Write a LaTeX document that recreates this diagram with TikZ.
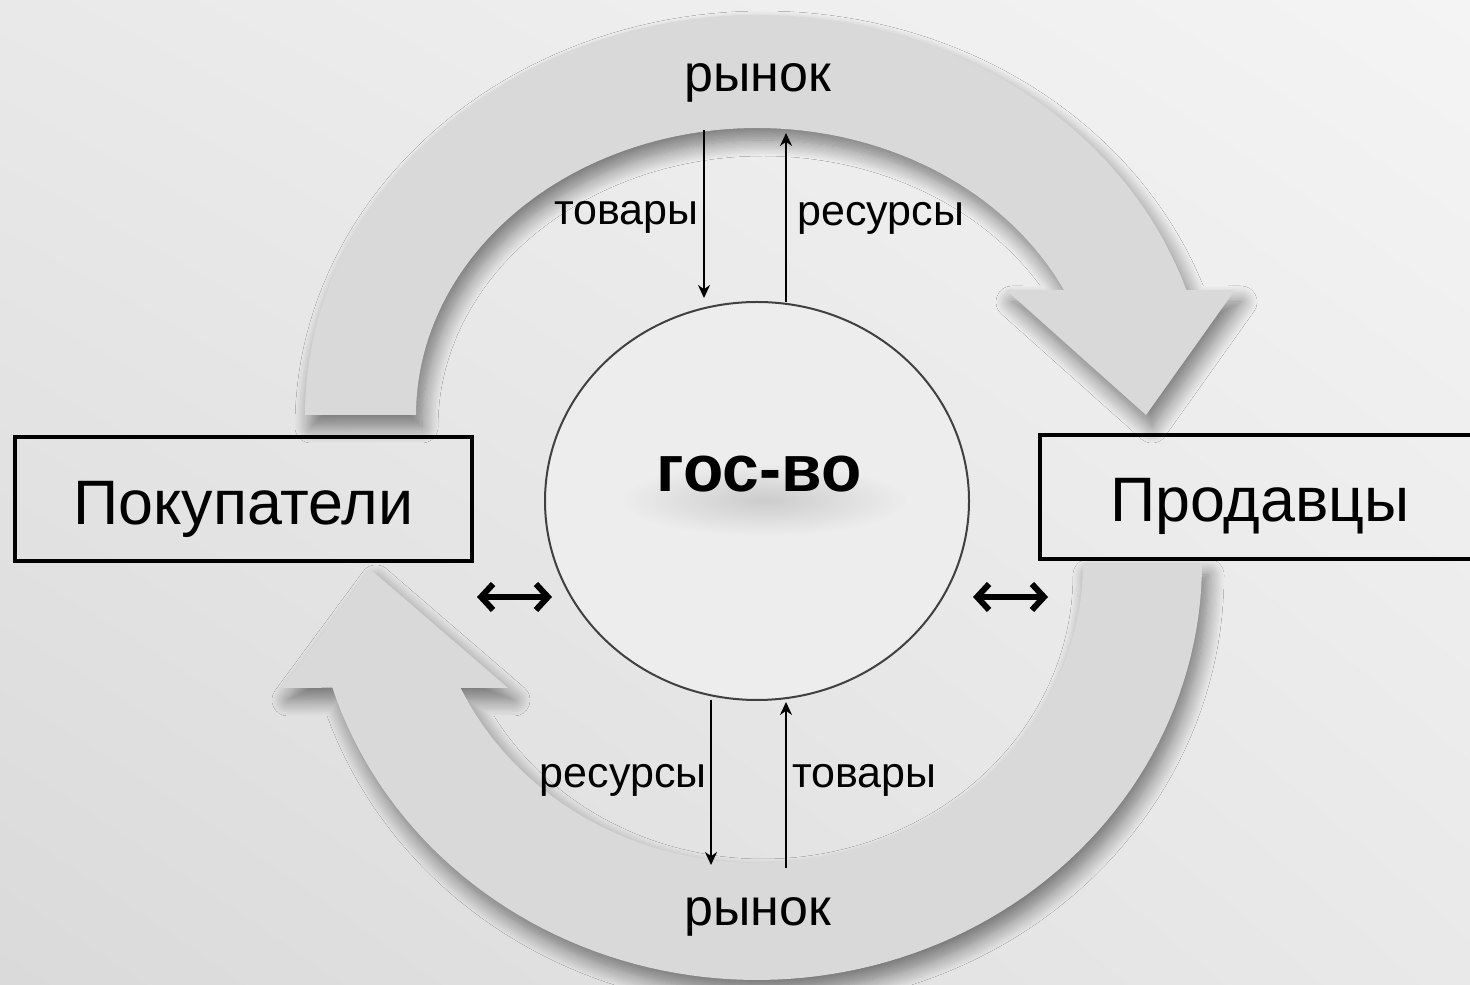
\documentclass[tikz,border=0pt]{standalone}
\usepackage{fontspec}
\setmainfont{Liberation Sans}
\usetikzlibrary{arrows.meta,shadows.blur,shapes.geometric,shadings}
\definecolor{arrowfill}{HTML}{D9D9D9}
\definecolor{bgA}{HTML}{F4F4F4}
\definecolor{bgB}{HTML}{E9E9E9}
\definecolor{bgC}{HTML}{DADADA}
\definecolor{circfill}{HTML}{EDEDED}
\begin{document}
\begin{tikzpicture}[x=0.5pt,y=0.5pt,
  band/.style={fill=arrowfill, blur shadow={shadow xshift=3pt, shadow yshift=-6pt, shadow blur radius=8pt, shadow opacity=50, shadow blur steps=14}},
  thinarrow/.style={line width=1pt, -{Stealth[length=6.5pt,width=6pt]}},
  dblarrow/.style={line width=3pt, {Straight Barb[length=6pt,width=13pt]}-{Straight Barb[length=6pt,width=13pt]}},
  boxnode/.style={draw, line width=1.8pt, minimum height=62pt, inner sep=0pt, font=\fontsize{31.4pt}{36pt}\selectfont},
  lbl/.style={font=\fontsize{21.5pt}{24pt}\selectfont, inner sep=0pt},
  mkt/.style={font=\fontsize{26pt}{30pt}\selectfont, inner sep=0pt}]

\useasboundingbox (0,0) rectangle (1470,984);
\clip (0,0) rectangle (1470,984);
\shade[upper left=bgB, upper right=bgA, lower left=bgC, lower right=bgB] (0,0) rectangle (1470,984);

% upper curved arrow
\fill[band] (305,569) -- plot[domain=180:18.2, samples=90] ({757+452*cos(\x)},{569+400*sin(\x)})
  -- (1235,694) -- (1146,569) -- (1006,694)
  -- plot[domain=25.8:180, samples=90] ({757+341*cos(\x)},{569+287*sin(\x)}) -- cycle;

% lower curved arrow
\fill[band] (1202,421) -- plot[domain=0:-162.6, samples=90] ({757+445*cos(\x)},{421+417*sin(\x)})
  -- (282,296) -- (370,415) -- (508,296)
  -- plot[domain=-155.4:0, samples=90] ({757+326*cos(\x)},{421+300*sin(\x)}) -- cycle;

% state
\node[ellipse, draw=black!75, line width=1pt, fill=circfill, minimum width=212pt, minimum height=199pt, inner sep=0pt] (gov) at (757,483) {};
\shade[inner color=black!20, outer color=circfill] (764,484) ellipse [x radius=72pt, y radius=18pt];
\node[font=\bfseries\fontsize{33pt}{36pt}\selectfont, anchor=base, inner sep=0pt] (govtext) at (759,492) {гос-во};

% boxes
\node[boxnode, minimum width=228.5pt, text height=26pt, text depth=0pt] (buyers) at (243.5,485) {Покупатели};
\node[boxnode, minimum width=220pt, text height=25pt, text depth=0pt] (sellers) at (1260,487) {Продавцы};

% market labels
\node[mkt, anchor=base] (mtop) at (758,892) {рынок};
\node[mkt, anchor=base] (mbot) at (758,59) {рынок};
\node[lbl, anchor=base east] (l1) at (699,759) {товары};
\node[lbl, anchor=base west] (l2) at (797,758) {ресурсы};
\node[lbl, anchor=base east] (l3) at (707,196) {ресурсы};
\node[lbl, anchor=base west] (l4) at (792,196) {товары};

% vertical flows
\coordinate (u1s) at (704,854); \coordinate (u1e) at (704,686);
\coordinate (u2s) at (786,682); \coordinate (u2e) at (786,851);
\coordinate (d1s) at (711,284); \coordinate (d1e) at (711,119);
\coordinate (d2s) at (786,116); \coordinate (d2e) at (786,282);
\draw[thinarrow] (u1s) -- (u1e);
\draw[thinarrow] (u2s) -- (u2e);
\draw[thinarrow] (d1s) -- (d1e);
\draw[thinarrow] (d2s) -- (d2e);

% horizontal exchanges
\coordinate (hl1) at (477,387); \coordinate (hl2) at (552,387);
\coordinate (hr1) at (973,387); \coordinate (hr2) at (1048,387);
\draw[dblarrow] (hl1) -- (hl2);
\draw[dblarrow] (hr1) -- (hr2);
\end{tikzpicture}
\end{document}
